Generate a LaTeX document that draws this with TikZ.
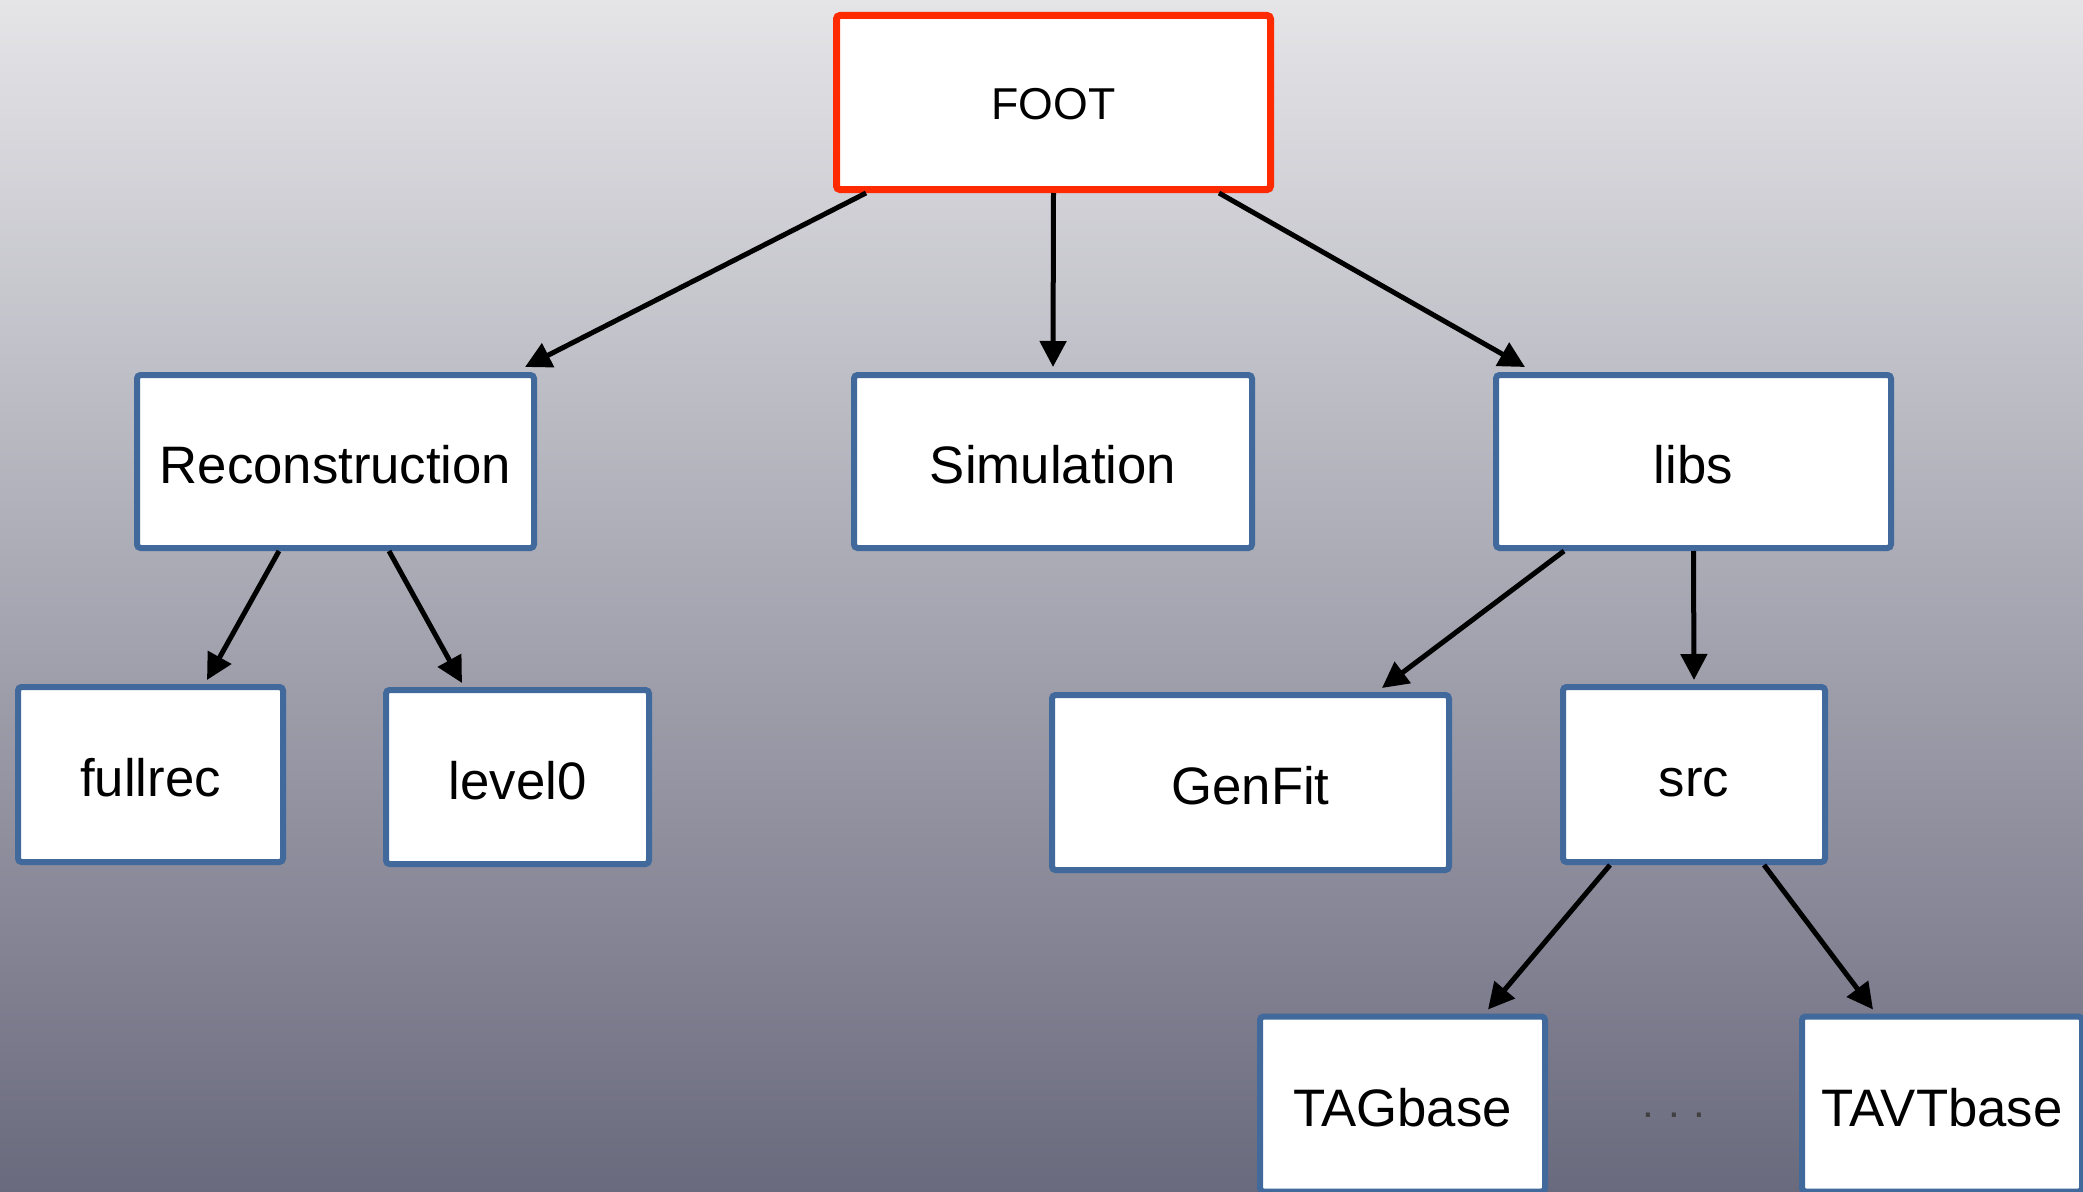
\documentclass[tikz,border=0pt]{standalone}
\usepackage{fontspec}
\setmainfont{Liberation Sans}
\usetikzlibrary{arrows.meta,calc}

\definecolor{bgtop}{HTML}{E5E5E8}
\definecolor{bgbottom}{HTML}{6A6A7E}
\definecolor{boxblue}{HTML}{41699B}
\definecolor{footred}{HTML}{FF2A00}

\tikzset{
  dirbox/.style={draw=boxblue, line width=0.06cm, fill=white, rounded corners=1pt,
    minimum height=1.73cm, text height=13pt, text depth=0.4pt,
    font=\fontsize{15}{18}\selectfont},
  topbox/.style={draw=footred, line width=0.07cm, fill=white, rounded corners=1pt,
    minimum width=4.34cm, minimum height=1.74cm, text height=10.2pt, text depth=0.3pt,
    font=\fontsize{12.7}{15}\selectfont},
  link/.style={line width=0.05cm, -{Triangle[length=0.26cm,width=0.26cm]}}
}

\begin{document}
\begin{tikzpicture}

    % background
    \useasboundingbox (0,0) rectangle (20.83,11.91);
    \shade[top color=bgtop, bottom color=bgbottom] (0,0) rectangle (20.83,11.91);

    % top level
    \node[topbox] (foot) at (10.535, 10.885) {FOOT};

    % second level
    \node[dirbox, minimum width=3.97cm] (reco) at (3.355, 7.295) {Reconstruction};
    \node[dirbox, minimum width=3.98cm] (sim) at (10.53, 7.295) {Simulation};
    \node[dirbox, minimum width=3.95cm] (libs) at (16.935, 7.295) {libs};

    % third level
    \node[dirbox, minimum width=2.65cm, minimum height=1.75cm] (fullrec) at (1.505, 4.165) {fullrec};
    \node[dirbox, minimum width=2.63cm, minimum height=1.74cm] (level0) at (5.175, 4.14) {level0};
    \node[dirbox, minimum width=3.97cm, minimum height=1.75cm] (genfit) at (12.505, 4.085) {GenFit};
    \node[dirbox, minimum width=2.62cm, minimum height=1.75cm] (src) at (16.94, 4.165) {src};

    % bottom level
    \node[dirbox, minimum width=2.85cm, minimum height=1.75cm] (tagbase) at (14.025, 0.87) {TAGbase};
    \node[dirbox, minimum width=2.80cm, minimum height=1.75cm] (tavtbase) at (19.42, 0.87) {TAVTbase};
    \node[text=black!75, font=\fontsize{12}{14}\selectfont] (dots) at (16.74, 0.76) {.\,\,.\,\,.};

    % links
    \draw[link] ($(foot.south)+(-1.875,0)$) -- ($(reco.north east)+(-0.12,0.05)$);
    \draw[link] (foot.south) -- ($(sim.north)+(0,0.05)$);
    \draw[link] ($(foot.south)+(1.655,0)$) -- ($(libs.north west)+(0.32,0.05)$);

    \draw[link] ($(reco.south)+(-0.565,0)$) -- ($(fullrec.north)+(0.565,0.04)$);
    \draw[link] ($(reco.south)+(0.535,0)$) -- ($(level0.north)+(-0.555,0.04)$);

    \draw[link] ($(libs.south)+(-1.295,0)$) -- ($(genfit.north)+(1.315,0.04)$);
    \draw[link] (libs.south) -- ($(src.north)+(0,0.04)$);

    \draw[link] ($(src.south)+(-0.84,0)$) -- ($(tagbase.north)+(0.855,0.04)$);
    \draw[link] ($(src.south)+(0.70,0)$) -- ($(tavtbase.north)+(-0.69,0.04)$);

\end{tikzpicture}
\end{document}
